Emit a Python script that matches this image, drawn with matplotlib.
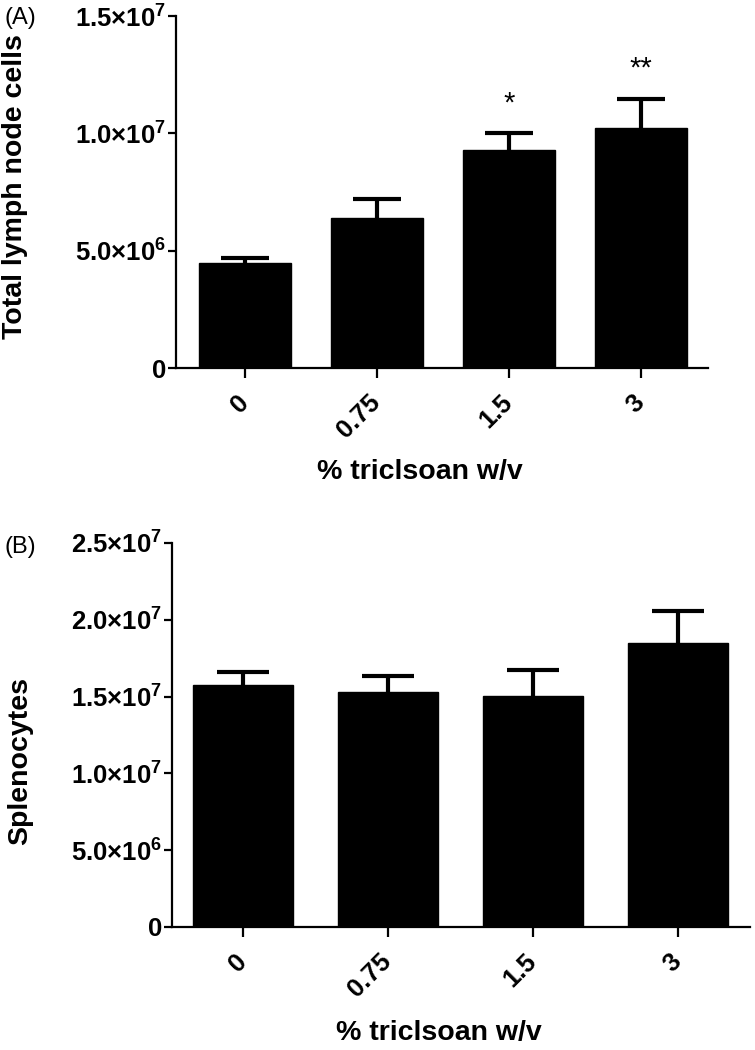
import matplotlib
matplotlib.use("Agg")
import matplotlib.pyplot as plt
import numpy as np

plt.rcParams['font.family'] = ['Liberation Sans', 'DejaVu Sans']
plt.rcParams['mathtext.fontset'] = 'custom'
plt.rcParams['mathtext.rm'] = 'Liberation Sans:bold'
plt.rcParams['mathtext.it'] = 'Liberation Sans:bold'
plt.rcParams['mathtext.bf'] = 'Liberation Sans:bold'

categories = ['0', '0.75', '1.5', '3']
lymph_mean = [4.47e6, 6.38e6, 9.28e6, 10.23e6]
lymph_sem = [0.21e6, 0.81e6, 0.72e6, 1.24e6]
lymph_sig = ['', '', '*', '**']
spleno_mean = [15.76e6, 15.30e6, 15.04e6, 18.49e6]
spleno_sem = [0.84e6, 1.04e6, 1.69e6, 2.08e6]

yticks_a = [0, 5e6, 1e7, 1.5e7]
yticklabels_a = ['0', '5.0×10$^{6}$', '1.0×10$^{7}$', '1.5×10$^{7}$']
yticks_b = [0, 5e6, 1e7, 1.5e7, 2e7, 2.5e7]
yticklabels_b = ['0', '5.0×10$^{6}$', '1.0×10$^{7}$', '1.5×10$^{7}$',
                 '2.0×10$^{7}$', '2.5×10$^{7}$']

W, H = 755, 1050
fig = plt.figure(figsize=(W / 100, H / 100), dpi=100)

def px_axes(l, r, t, b):
    return fig.add_axes([l / W, 1 - b / H, (r - l) / W, (b - t) / H])

axA = px_axes(176, 708, 16, 368)
axB = px_axes(172, 750, 543, 927)

TICKFS = 18.5

def style(ax, means, sems, yticks, ylabels, ylim, xlim, bw, capsize):
    x = np.arange(len(categories))
    ax.bar(x, means, width=bw, color='black', edgecolor='black', zorder=3)
    ax.errorbar(x, means, yerr=sems, fmt='none',
                ecolor='black', elinewidth=3, capsize=capsize, capthick=3, zorder=2)
    ax.set_xlim(*xlim)
    ax.set_ylim(*ylim)
    ax.set_yticks(yticks)
    ax.set_yticklabels(ylabels, fontsize=TICKFS, fontweight='bold')
    ax.set_xticks(x)
    ax.set_xticklabels(categories, fontsize=TICKFS, fontweight='bold', rotation=45,
                       ha='right', va='center', rotation_mode='anchor')
    for s in ['top', 'right']:
        ax.spines[s].set_visible(False)
    for s in ['left', 'bottom']:
        ax.spines[s].set_linewidth(1.6)
        ax.spines[s].set_zorder(4)
    ax.tick_params(axis='x', length=7, width=1.6, pad=15)
    ax.tick_params(axis='y', length=6, width=1.6, pad=1)

style(axA, lymph_mean, lymph_sem, yticks_a, yticklabels_a, (0, 1.5e7),
      (-0.523, 3.51), 0.70, 17)
style(axB, spleno_mean, spleno_sem, yticks_b, yticklabels_b, (0, 2.5e7),
      (-0.49, 3.50), 0.69, 19)

for i, s in enumerate(lymph_sig):
    if s:
        axA.annotate(s, xy=(i, lymph_mean[i] + lymph_sem[i]), xytext=(0, 16),
                     textcoords='offset points', ha='center', va='baseline',
                     fontsize=21, fontweight='normal')

LABFS = 20.5
fig.text(15 / W, 1 - 187 / H, 'Total lymph node cells', rotation=90,
         fontsize=LABFS, fontweight='bold', ha='center', va='center')
fig.text(20 / W, 1 - 761 / H, 'Splenocytes', rotation=90,
         fontsize=LABFS, fontweight='bold', ha='center', va='center')
fig.text(420 / W, 1 - 472 / H, '% triclsoan w/v',
         fontsize=LABFS, fontweight='bold', ha='center', va='center')
fig.text(439 / W, 1 - 1033 / H, '% triclsoan w/v',
         fontsize=LABFS, fontweight='bold', ha='center', va='center')

fig.text(4 / W, 1 - 18 / H, '(A)', fontsize=17, va='center', ha='left')
fig.text(4 / W, 1 - 547 / H, '(B)', fontsize=17, va='center', ha='left')

fig.savefig('out.png', dpi=100, facecolor='white')
